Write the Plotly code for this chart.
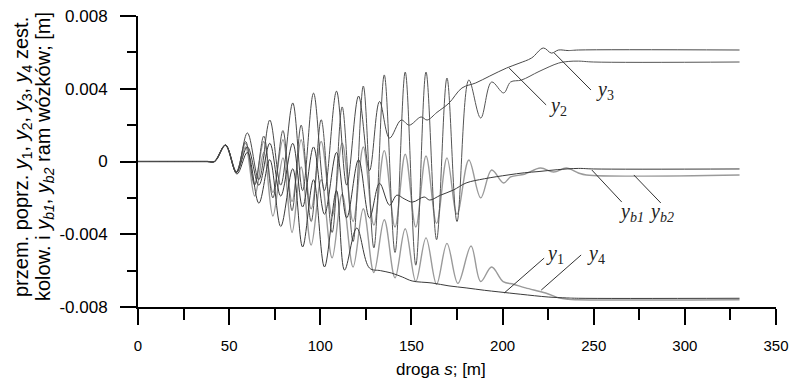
import numpy as np
import plotly.graph_objects as go

# ---- data (s in m, displacements in mm, converted to m below) ----
s_y1 = [0, 20, 38, 42, 48, 54.3, 60, 66.3, 72.3, 78.3, 84.9, 90.3, 96.3, 102.3, 108.9, 113.3, 120, 127, 133, 139, 145, 150.4, 161.3, 170.6, 180, 190, 198, 210, 225, 235, 241.6, 330]
y1_mm = [0, 0, 0, 0, 0.9, -0.69, 0.5, -2.29, 0.1, -3.57, -0.4, -4.70, -1.0, -5.8, -1.6, -5.97, -3.66, -5.86, -6.0, -6.13, -6.35, -6.57, -6.68, -6.84, -6.95, -7.08, -7.17, -7.3, -7.45, -7.5, -7.52, -7.52]

s_y2 = [0, 20, 38, 42, 48, 54, 60, 66.3, 72.3, 78.3, 84.9, 90.3, 96.3, 102.3, 108.9, 114.5, 121, 127, 132.5, 138, 144.4, 148.8, 155.3, 158.6, 164, 170.6, 177.7, 185.3, 193, 202.2, 209, 215.9, 222.4, 226.8, 230.7, 236, 241.6, 330]
y2_mm = [0, 0, 0, 0, 0.91, -0.55, 1.57, -1.0, 2.28, -1.3, 3.22, -1.6, 3.76, -1.6, 3.87, -1.3, 3.6, -0.5, 3.3, 1.29, 2.28, 2.0, 2.45, 2.28, 2.7, 3.21, 4.04, 4.32, 4.7, 5.14, 5.4, 5.69, 6.24, 5.96, 6.13, 6.1, 6.13, 6.13]

s_y3 = [0, 20, 38, 42, 48, 54, 59, 64, 69, 74, 79.5, 84.5, 89.5, 95, 100.5, 106.5, 112, 118, 123.6, 129.4, 135.1, 141, 146.6, 152.4, 158, 163.8, 169.5, 175, 181.5, 188, 194, 200.6, 204.4, 210.4, 220, 230.7, 236, 241.6, 250, 330]
y3_mm = [0, 0, 0, 0, 0.9, -0.6, 1.1, -1.3, 1.4, -2.0, 1.7, -2.7, 2.0, -3.3, 2.3, -3.9, 3.0, -4.4, 4.15, -4.75, 4.76, -5.0, 4.92, -5.7, 4.92, -4.3, 4.59, -3.3, 4.48, 2.39, 4.37, 3.77, 4.37, 4.48, 4.95, 5.41, 5.5, 5.52, 5.47, 5.47]

s_y4 = [0, 20, 38, 42, 48, 54, 59, 64, 69, 74, 79.5, 84.5, 89.5, 95, 100.5, 106.5, 112, 118, 123.6, 129.4, 135.1, 141, 146.6, 152.4, 158, 163.8, 169.5, 175.5, 182.7, 188, 194, 200.3, 206, 212.6, 223.6, 230.7, 236, 241, 330]
y4_mm = [0, 0, 0, 0, 0.9, -0.6, 0.8, -1.9, 0.5, -3.0, 0.2, -3.9, -0.3, -4.6, -1.0, -5.3, -1.8, -5.8, -2.6, -6.1, -3.2, -6.4, -3.7, -6.6, -4.2, -6.75, -4.5, -6.7, -4.65, -6.6, -5.8, -6.6, -6.75, -6.95, -7.23, -7.5, -7.58, -7.6, -7.6]

s_yb1 = [0, 20, 38, 42, 48, 54, 60, 66.3, 72.3, 78.3, 84.9, 90.3, 96.3, 102.3, 108.9, 114.5, 121, 127, 132.5, 138, 142, 146, 150.6, 157, 160, 166, 173, 180, 190, 203, 212, 220, 230, 241.6, 250, 330]
yb1_mm = [0, 0, 0, 0, 0.9, -0.6, 0.8, -1.3, 1.0, -1.9, 1.0, -2.5, 0.8, -2.9, 0.5, -3.1, 0.1, -3.1, -1.2, -2.4, -1.85, -2.05, -2.23, -1.95, -2.12, -1.85, -1.57, -1.18, -0.95, -0.74, -0.62, -0.55, -0.45, -0.38, -0.41, -0.41]

s_yb2 = [0, 20, 38, 42, 48, 54, 59, 64, 69, 74, 79.5, 84.5, 89.5, 95, 100.5, 106.5, 112, 118, 123.6, 129.4, 135.1, 141, 146.6, 152.4, 158, 163.8, 169.5, 175, 181.5, 188, 194, 200.6, 204.4, 212, 220.8, 228, 235, 241.6, 246, 330]
yb2_mm = [0, 0, 0, 0, 0.9, -0.6, 1.0, -1.2, 1.1, -1.7, 1.2, -2.2, 1.2, -2.6, 1.1, -3.0, 1.0, -3.3, 0.8, -3.5, 0.6, -3.6, 0.4, -3.6, 0.3, -3.4, 0.2, -2.9, 0.08, -2.0, -0.47, -1.18, -0.85, -0.7, -0.36, -0.58, -0.36, -0.63, -0.74, -0.74]

x_ticks = [0, 50, 100, 150, 200, 250, 300, 350]
y_ticks = [-0.008, -0.004, 0, 0.004, 0.008]
y_tick_labels = ["-0.008", "-0.004", "0", "0.004", "0.008"]

# curve labels: text, label position (s, y) and pointer line (s0, y0, s1, y1)
labels = [
    ("<i>y</i><sub>2</sub>", 224.4, 0.00305, (203.6, 0.00514, 223.9, 0.00311)),
    ("<i>y</i><sub>3</sub>", 250.2, 0.00393, (228.3, 0.00597, 248.5, 0.00393)),
    ("<i>y</i><sub><i>b1</i></sub>", 262.8, -0.00278, (249.0, -0.00047, 265.4, -0.00223)),
    ("<i>y</i><sub><i>b2</i></sub>", 279.2, -0.00278, (272.0, -0.00074, 286.8, -0.00228)),
    ("<i>y</i><sub>1</sub>", 222.8, -0.00514, (200.9, -0.00723, 222.8, -0.00531)),
    ("<i>y</i><sub>4</sub>", 245.2, -0.00514, (221.2, -0.00707, 243.1, -0.00514)),
]

y_title_lines = [
    "przem. poprz. <i>y</i><sub>1</sub>, <i>y</i><sub>2</sub>, <i>y</i><sub>3</sub>, <i>y</i><sub>4</sub> zest.",
    "kolow. i <i>y</i><sub><i>b1</i></sub>, <i>y</i><sub><i>b2</i></sub> ram wózków; [m]",
]

curves = [
    (s_y4, y4_mm, "#9a9a9a", 1.4),
    (s_yb2, yb2_mm, "#9a9a9a", 1.4),
    (s_y3, y3_mm, "#555555", 1.0),
    (s_y1, y1_mm, "#3a3a3a", 1.0),
    (s_yb1, yb1_mm, "#3a3a3a", 1.0),
    (s_y2, y2_mm, "#4a4a4a", 1.0),
]

# body margin is removed by post_script, so the figure fills the 790x381 window
W, H = 790, 381
L, R, T, B = 138, 14, 16, 74
pw, ph = W - L - R, H - T - B
plot_left, plot_bottom = L, T + ph   # page pixels


def px_to_paper_x(px):
    return (px - plot_left) / pw


def py_to_paper_y(py):
    return (plot_bottom - py) / ph


fig = go.Figure()
for s, v, col, w in curves:
    fig.add_trace(go.Scatter(
        x=s, y=np.array(v) / 1000.0, mode="lines",
        line=dict(color=col, width=w, shape="spline", smoothing=1.0),
        showlegend=False, hoverinfo="skip"))

shapes = []
annotations = []
for txt, lx, ly, (x0, y0, x1, y1) in labels:
    shapes.append(dict(type="line", xref="x", yref="y", x0=x0, y0=y0, x1=x1, y1=y1,
                       line=dict(color="#333333", width=1)))
    annotations.append(dict(xref="x", yref="y", x=lx, y=ly, text=txt, showarrow=False,
                            xanchor="left", yanchor="middle",
                            font=dict(family="Liberation Serif, Times New Roman, serif", size=20, color="#222222")))

for txt, px in zip(y_title_lines, [22, 44]):
    annotations.append(dict(
        xref="paper", yref="paper", x=px_to_paper_x(px), y=py_to_paper_y(157), textangle=-90,
        xanchor="center", yanchor="middle", showarrow=False, text=txt,
        font=dict(family="Liberation Sans, Arial, sans-serif", size=20, color="black")))

annotations.append(dict(
    xref="paper", yref="paper", x=px_to_paper_x(441), y=py_to_paper_y(369),
    xanchor="center", yanchor="middle", showarrow=False,
    text="droga <i>s</i>; [m]",
    font=dict(family="Liberation Sans, Arial, sans-serif", size=17, color="black")))

fig.update_layout(
    width=W, height=H,
    margin=dict(l=L, r=R, t=T, b=B, autoexpand=False),
    plot_bgcolor="white", paper_bgcolor="white",
    shapes=shapes, annotations=annotations,
    font=dict(family="Liberation Sans, Arial, sans-serif", color="black"),
)
fig.update_xaxes(
    range=[0, 350], tickvals=x_ticks, ticks="outside", ticklen=16, tickwidth=2, tickcolor="black",
    showline=True, linewidth=2, linecolor="black", showgrid=False, zeroline=False, automargin=False,
    tickfont=dict(size=15, color="black"), ticklabelstandoff=8, ticklabeloverflow="allow",
    minor=dict(dtick=25, tick0=0, ticks="outside", ticklen=11, tickwidth=2, tickcolor="black", showgrid=False),
)
fig.update_yaxes(
    range=[-0.008, 0.008], tickvals=y_ticks, ticktext=y_tick_labels, ticks="outside", ticklen=16,
    tickwidth=2, tickcolor="black", showline=True, linewidth=2, linecolor="black", automargin=False,
    showgrid=False, zeroline=False, tickfont=dict(size=17, color="black"), ticklabelstandoff=9,
    ticklabeloverflow="allow",
    minor=dict(dtick=0.002, tick0=0, ticks="outside", ticklen=9, tickwidth=2, tickcolor="black", showgrid=False),
)

fig.write_html("out.html",
               config={"displayModeBar": False, "staticPlot": True},
               post_script="document.body.style.margin='0px'; document.body.style.overflow='hidden';")
